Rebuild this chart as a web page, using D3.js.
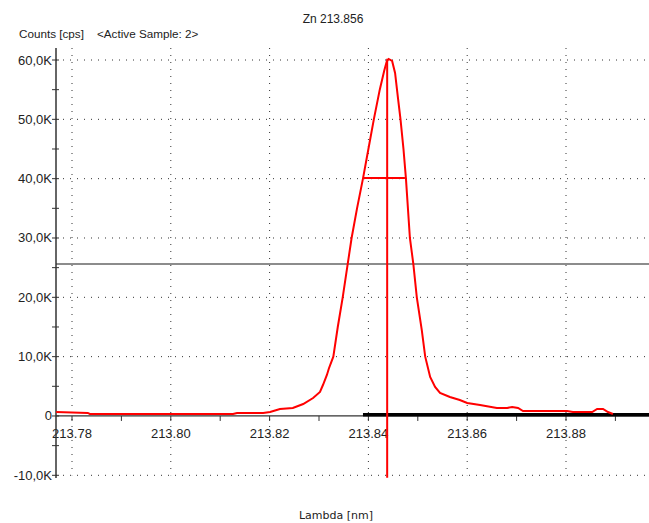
<!DOCTYPE html>
<html>
<head>
<meta charset="utf-8">
<script src="https://cdn.jsdelivr.net/npm/d3@7"></script>
<style>
  body { margin: 0; background: #fff; }
  text { font-family: "Liberation Sans", Arial, sans-serif; fill: #222; }
</style>
</head>
<body>
<script>
// spectrum (lambda nm, counts cps)
const lambda = [213.7768, 213.7832, 213.7836, 213.8126, 213.8134, 213.8187, 213.8201, 213.8221,
  213.8247, 213.8268, 213.8288, 213.8302, 213.8308, 213.8316, 213.8320, 213.8329, 213.8338,
  213.8348, 213.8357, 213.8366, 213.8377, 213.8389, 213.8400, 213.8411, 213.8423, 213.8432,
  213.8437, 213.8441, 213.8448, 213.8454, 213.8460, 213.8465, 213.8471, 213.8476, 213.8484,
  213.8491, 213.8498, 213.8508, 213.8515, 213.8525, 213.8535, 213.8545, 213.8565, 213.8585,
  213.8600, 213.8626, 213.8660, 213.8681, 213.8691, 213.8703, 213.8713, 213.8741, 213.8802,
  213.8814, 213.8853, 213.8863, 213.8875, 213.8885, 213.8895];
const counts = [670, 510, 340, 340, 510, 510, 670, 1180,
  1350, 2020, 3030, 4050, 5220, 6910, 8000, 10000, 15000,
  20000, 25000, 30000, 35000, 40000, 45000, 50000, 55000, 58200,
  59700, 60170, 59830, 57810, 53500, 50000, 45000, 40000, 30000,
  25600, 20000, 14500, 10000, 6570, 4890, 3880, 3200, 2700,
  2190, 1850, 1350, 1350, 1520, 1350, 840, 840, 840,
  670, 670, 1180, 1180, 670, 340];

const xTicks = [213.78, 213.80, 213.82, 213.84, 213.86, 213.88];
const xMinor = [213.79, 213.81, 213.83, 213.85, 213.87, 213.89];
const yTicks = [-10000, 0, 10000, 20000, 30000, 40000, 50000, 60000];
const yMinor = [-5000, 5000, 15000, 25000, 35000, 45000, 55000];

// markers
const peakPos = 213.8438, peakTop = 60200, peakBottom = -10400;
const halfHeight = 40100, halfLeft = 213.8389, halfRight = 213.8474;
const threshold = 25600;
const baseline = { from: 213.8389, value: 220 };

const W = 649, H = 523;
const plot = { left: 56, right: 649, top: 48, bottom: 478 };

const svg = d3.select("body").append("svg")
    .attr("width", W).attr("height", H);

const x = d3.scaleLinear().domain([213.78, 213.88]).range([72, 566]);
const y = d3.scaleLinear().domain([-10000, 60000]).range([475.3, 60]);

// dotted grid
svg.append("g").selectAll("line").data(xTicks).enter().append("line")
    .attr("x1", d => x(d)).attr("x2", d => x(d))
    .attr("y1", plot.top).attr("y2", y(-10000))
    .attr("stroke", "#333").attr("stroke-dasharray", "1,6");
svg.append("g").selectAll("line").data(yTicks.filter(d => d !== 0)).enter().append("line")
    .attr("x1", plot.left).attr("x2", plot.right)
    .attr("y1", d => y(d)).attr("y2", d => y(d))
    .attr("stroke", "#333").attr("stroke-dasharray", "1,6");

// threshold line
svg.append("line")
    .attr("x1", plot.left).attr("x2", plot.right)
    .attr("y1", y(threshold)).attr("y2", y(threshold))
    .attr("stroke", "#8c8c8c").attr("stroke-width", 2);

// x axis line at zero
svg.append("line")
    .attr("x1", plot.left).attr("x2", plot.right)
    .attr("y1", y(0)).attr("y2", y(0))
    .attr("stroke", "#333").attr("stroke-width", 1.2);

// x ticks
svg.append("g").selectAll("line").data(xTicks.concat(xMinor)).enter().append("line")
    .attr("x1", d => x(d)).attr("x2", d => x(d))
    .attr("y1", y(0)).attr("y2", y(0) + 5)
    .attr("stroke", "#333");
svg.append("g").selectAll("text").data(xTicks).enter().append("text")
    .attr("x", d => x(d)).attr("y", y(0) + 22)
    .attr("text-anchor", "middle").style("font-size", "13px")
    .text(d => d.toFixed(2));

// y axis
svg.append("line")
    .attr("x1", plot.left).attr("x2", plot.left)
    .attr("y1", plot.top).attr("y2", plot.bottom)
    .attr("stroke", "#333").attr("stroke-width", 1.5);
svg.append("g").selectAll("line").data(yTicks.concat(yMinor)).enter().append("line")
    .attr("x1", plot.left - 4).attr("x2", plot.left + 3)
    .attr("y1", d => y(d)).attr("y2", d => y(d))
    .attr("stroke", "#333");
const fmtY = d => d === 0 ? "0" : (d / 1000).toFixed(1).replace(".", ",") + "K";
svg.append("g").selectAll("text").data(yTicks).enter().append("text")
    .attr("x", plot.left - 4).attr("y", d => y(d) + 4.5)
    .attr("text-anchor", "end").style("font-size", "13px")
    .text(fmtY);

// black baseline segment
svg.append("line")
    .attr("x1", x(baseline.from)).attr("x2", plot.right)
    .attr("y1", y(baseline.value)).attr("y2", y(baseline.value))
    .attr("stroke", "#000").attr("stroke-width", 3.5);

// spectrum
const line = d3.line().x(d => x(d[0])).y(d => y(d[1]));
svg.append("path")
    .datum(d3.zip(lambda, counts))
    .attr("d", line)
    .attr("fill", "none").attr("stroke", "#ff0000").attr("stroke-width", 2);

// peak markers
svg.append("line")
    .attr("x1", x(peakPos)).attr("x2", x(peakPos))
    .attr("y1", y(peakTop)).attr("y2", y(peakBottom))
    .attr("stroke", "#ff0000").attr("stroke-width", 2);
svg.append("line")
    .attr("x1", x(halfLeft)).attr("x2", x(halfRight))
    .attr("y1", y(halfHeight)).attr("y2", y(halfHeight))
    .attr("stroke", "#ff0000").attr("stroke-width", 2);

// labels
svg.append("text").attr("x", 333).attr("y", 23)
    .attr("text-anchor", "middle").style("font-size", "12px").text("Zn 213.856");
svg.append("text").attr("x", 19).attr("y", 38)
    .style("font-size", "11.7px").text("Counts [cps]");
svg.append("text").attr("x", 97).attr("y", 38)
    .style("font-size", "11.7px").text("<Active Sample: 2>");
svg.append("text").attr("x", 336).attr("y", 519)
    .attr("text-anchor", "middle")
    .style("font-family", "'DejaVu Sans', sans-serif").style("font-size", "11px")
    .text("Lambda [nm]");
</script>
</body>
</html>
